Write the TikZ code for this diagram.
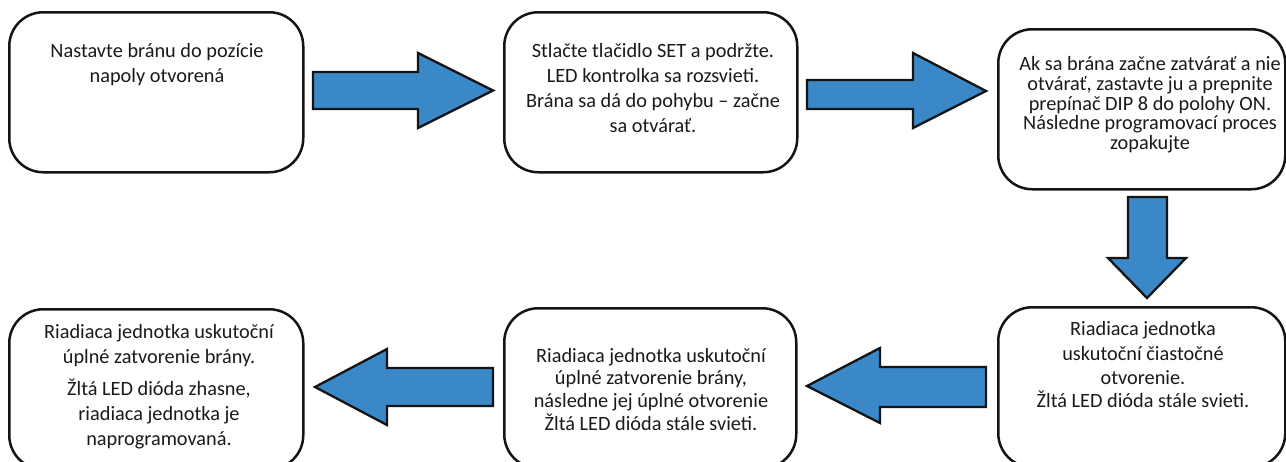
\documentclass[tikz,border=0pt]{standalone}
\usepackage{fontspec}
\setmainfont{Carlito}
\definecolor{arrowblue}{HTML}{3A88C8}
\definecolor{txtcol}{HTML}{1A1A1A}
\definecolor{edgecol}{HTML}{141414}
\newcommand\mystrut{\rule{0pt}{18pt}}
\begin{document}
\begin{tikzpicture}[x=1pt,y=-1pt,
  box/.style={draw=edgecol, line width=2.5pt, rounded corners=34pt, fill=white,
    minimum width=294pt, minimum height=160pt, anchor=north west, inner sep=0pt},
  blockarrow/.style={draw=edgecol, line width=2.3pt, fill=arrowblue, line join=miter},
  boxtext/.style={inner sep=0pt, align=center, text=txtcol, anchor=north,
    font=\fontsize{20.3}{25}\selectfont},
  tighttext/.style={boxtext, font=\fontsize{20.3}{19.7}\selectfont},
  midtext/.style={boxtext, font=\fontsize{20.3}{22.7}\selectfont}]
\useasboundingbox (0,0) rectangle (1286,461);
\clip (0,0) rectangle (1286,461);
\fill[white] (0,0) rectangle (1286,461);

% boxes
\node[box] (b1) at (8,11) {};
\node[box, minimum width=293pt] (b2) at (503,11) {};
\node[box, minimum width=287pt] (b3) at (997,28) {};
\node[box, minimum width=287pt] (b6) at (997,306) {};
\node[box, minimum width=292pt] (b5) at (503,307) {};
\node[box] (b4) at (8,308) {};

% texts
\node[boxtext] (t1) at (157,39) {\mystrut Nastavte bránu do pozície\\napoly otvorená};
\node[boxtext] (t2) at (653,39) {\mystrut Stlačte tlačidlo SET a podržte.\\LED kontrolka sa rozsvieti.\\Brána sa dá do pohybu – začne\\sa otvárať.};
\node[tighttext] (t3) at (1150,52.5) {\mystrut Ak sa brána začne zatvárať a nie\\otvárať, zastavte ju a prepnite\\prepínač DIP 8 do polohy ON.\\Následne programovací proces\\zopakujte};
\node[boxtext] (t6) at (1143,317) {\mystrut Riadiaca jednotka\\uskutoční čiastočné\\[-1pt]otvorenie.\\[-2pt]Žltá LED dióda stále svieti.};
\node[midtext] (t5) at (651,344) {\mystrut Riadiaca jednotka uskutoční\\úplné zatvorenie brány,\\následne jej úplné otvorenie\\Žltá LED dióda stále svieti.};
\node[boxtext] (t4) at (159,320) {\mystrut Riadiaca jednotka uskutoční\\úplné zatvorenie brány.\\[7pt]Žltá LED dióda zhasne,\\riadiaca jednotka je\\naprogramovaná.};

% block arrows
\draw[blockarrow] (313,72) -- (418,72) -- (418,53) -- (493,90.5) -- (418,128) -- (418,109) -- (313,109) -- cycle;
\draw[blockarrow] (807,80) -- (913,80) -- (913,53) -- (986,91) -- (913,128) -- (913,109) -- (807,109) -- cycle;
\draw[blockarrow] (1128,197) -- (1167,197) -- (1167,258) -- (1186,258) -- (1147,298) -- (1108,258) -- (1128,258) -- cycle;
\draw[blockarrow] (986,367) -- (880,367) -- (880,348) -- (807,386) -- (880,423) -- (880,407) -- (986,407) -- cycle;
\draw[blockarrow] (493,368) -- (387,368) -- (387,349) -- (315,387) -- (387,425) -- (387,406) -- (493,406) -- cycle;
\end{tikzpicture}
\end{document}
